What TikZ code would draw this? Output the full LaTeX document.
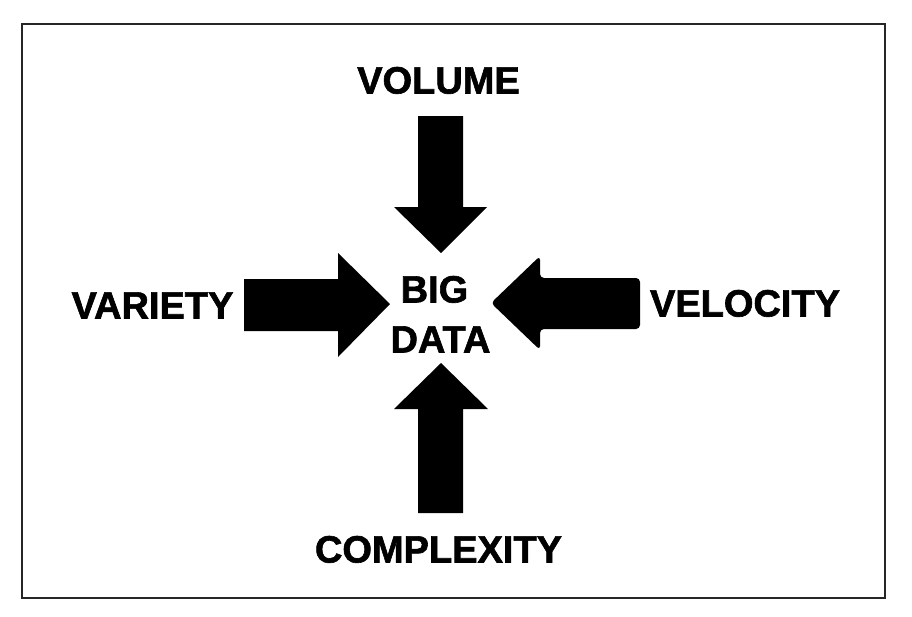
\documentclass[tikz,border=0pt]{standalone}
\usepackage{fontspec}
\setmainfont{Liberation Sans}[BoldFeatures={FakeBold=1.6}]
\begin{document}
\begin{tikzpicture}[x=1pt,y=-1pt,
  lbl/.style={inner sep=0pt,anchor=base,font=\fontsize{38}{40}\selectfont\bfseries},
  blk/.style={fill=black,draw=none}]
\useasboundingbox (0,0) rectangle (912,616);
\draw[line width=1.5pt,black!85] (22,24) rectangle (885,598);
% labels
\node[lbl] (vol) at (438.5,93.5) {VOLUME};
\node[lbl] (var) at (152.5,318.5) {VARIETY};
\node[lbl] (vel) at (745,316.5) {VELOCITY};
\node[lbl] (com) at (438.5,562.5) {COMPLEXITY};
\node[lbl] (big) at (434.5,302.5) {BIG};
\node[lbl] (dat) at (440.5,352.5) {DATA};
% arrows
\fill[blk] (418,116) -- (463,116) -- (463,207) -- (487,207) -- (441,253) -- (394,207) -- (418,207) -- cycle;
\fill[blk] (418,513) -- (463,513) -- (463,409) -- (488,409) -- (441,363) -- (394,409) -- (418,409) -- cycle;
\fill[blk] (244,279) -- (338,279) -- (338,253) -- (390,304) -- (338,357) -- (338,331) -- (244,331) -- cycle;
\fill[blk,rounded corners=4pt] (640,278) -- (640,329) -- (540,329) -- (540,350) -- (491,303) -- (540,256) -- (540,278) -- cycle;
\end{tikzpicture}
\end{document}
